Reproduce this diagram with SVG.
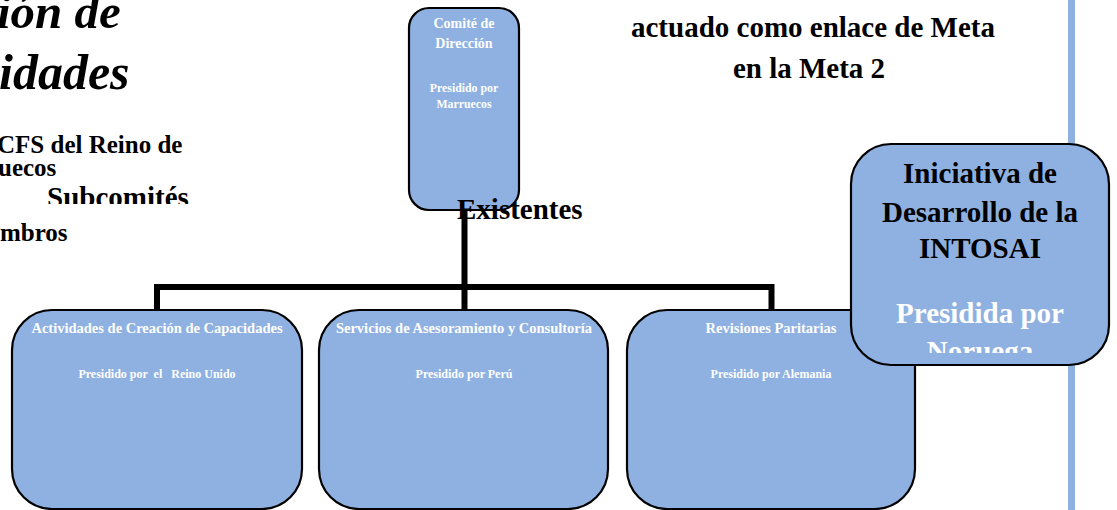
<svg xmlns="http://www.w3.org/2000/svg" width="1117" height="510" viewBox="0 0 1117 510">
<style>
.box{fill:#8EB1E1;stroke:#000;stroke-width:2.2}
.t{font-family:"Liberation Serif","Times New Roman",serif;font-weight:bold}
.w{fill:#fff}
.k{fill:#000}
.c{text-anchor:middle}
.conn{stroke:#000;stroke-width:6;fill:none;stroke-linecap:butt}
</style>
<defs>
<clipPath id="clipSub"><rect x="0" y="170" width="300" height="34"/></clipPath>
<clipPath id="clipNor"><rect x="850" y="330" width="260" height="23"/></clipPath>
</defs>
<rect x="1068" y="0" width="7" height="510" fill="#8EB1E1"/>
<g id="title-text">
<text class="t k" x="-3" y="28" font-size="49" font-style="italic">ión de</text>
<text class="t k" x="-1" y="89" font-size="50" font-style="italic">idades</text>
<text class="t k" x="-3" y="153" font-size="25">CFS del Reino de</text>
<text class="t k" x="-2" y="176" font-size="25">uecos</text>
<text class="t k" x="47" y="207" font-size="29" clip-path="url(#clipSub)">Subcomités</text>
<text class="t k" x="0" y="241" font-size="25">mbros</text>
<text class="t k c" x="813" y="37" font-size="29">actuado como enlace de Meta</text>
<text class="t k c" x="809" y="78" font-size="29">en la Meta 2</text>
</g>
<g id="connectors">
<path class="conn" d="M464.5 205 V287 M157 310 V287 H771.5 V310 M464.5 287 V310"/>
</g>
<g id="comite">
<rect class="box" x="409" y="8" width="110" height="202" rx="20"/>
<text class="t w c" x="464" y="28" font-size="14">Comité de</text>
<text class="t w c" x="464" y="48" font-size="14">Dirección</text>
<text class="t w c" x="464" y="92" font-size="11.8">Presidido por</text>
<text class="t w c" x="464" y="108" font-size="11.8">Marruecos</text>
</g>
<text class="t k" x="457" y="219" font-size="29">Existentes</text>
<g id="actividades">
<rect class="box" x="12" y="310" width="290" height="199" rx="40"/>
<text class="t w c" x="157" y="333" font-size="14.5">Actividades de Creación de Capacidades</text>
<text class="t w c" x="157" y="378" font-size="12" xml:space="preserve">Presidido por  el   Reino Unido</text>
</g>
<g id="servicios">
<rect class="box" x="319" y="310" width="289" height="199" rx="40"/>
<text class="t w c" x="464" y="333" font-size="14.5">Servicios de Asesoramiento y Consultoría</text>
<text class="t w c" x="464" y="378" font-size="12">Presidido por Perú</text>
</g>
<g id="revisiones">
<rect class="box" x="627" y="310" width="288" height="199" rx="40"/>
<text class="t w c" x="771" y="333" font-size="14.5">Revisiones Paritarias</text>
<text class="t w c" x="771" y="378" font-size="12">Presidido por Alemania</text>
</g>
<g id="intosai">
<rect class="box" x="851" y="144" width="258" height="221" rx="40"/>
<text class="t k c" x="980" y="183" font-size="29">Iniciativa de</text>
<text class="t k c" x="980" y="222" font-size="29">Desarrollo de la</text>
<text class="t k c" x="980" y="258" font-size="29">INTOSAI</text>
<text class="t w c" x="980" y="323" font-size="29">Presidida por</text>
<text class="t w c" x="980" y="361" font-size="29" clip-path="url(#clipNor)">Noruega</text>
</g>
</svg>
